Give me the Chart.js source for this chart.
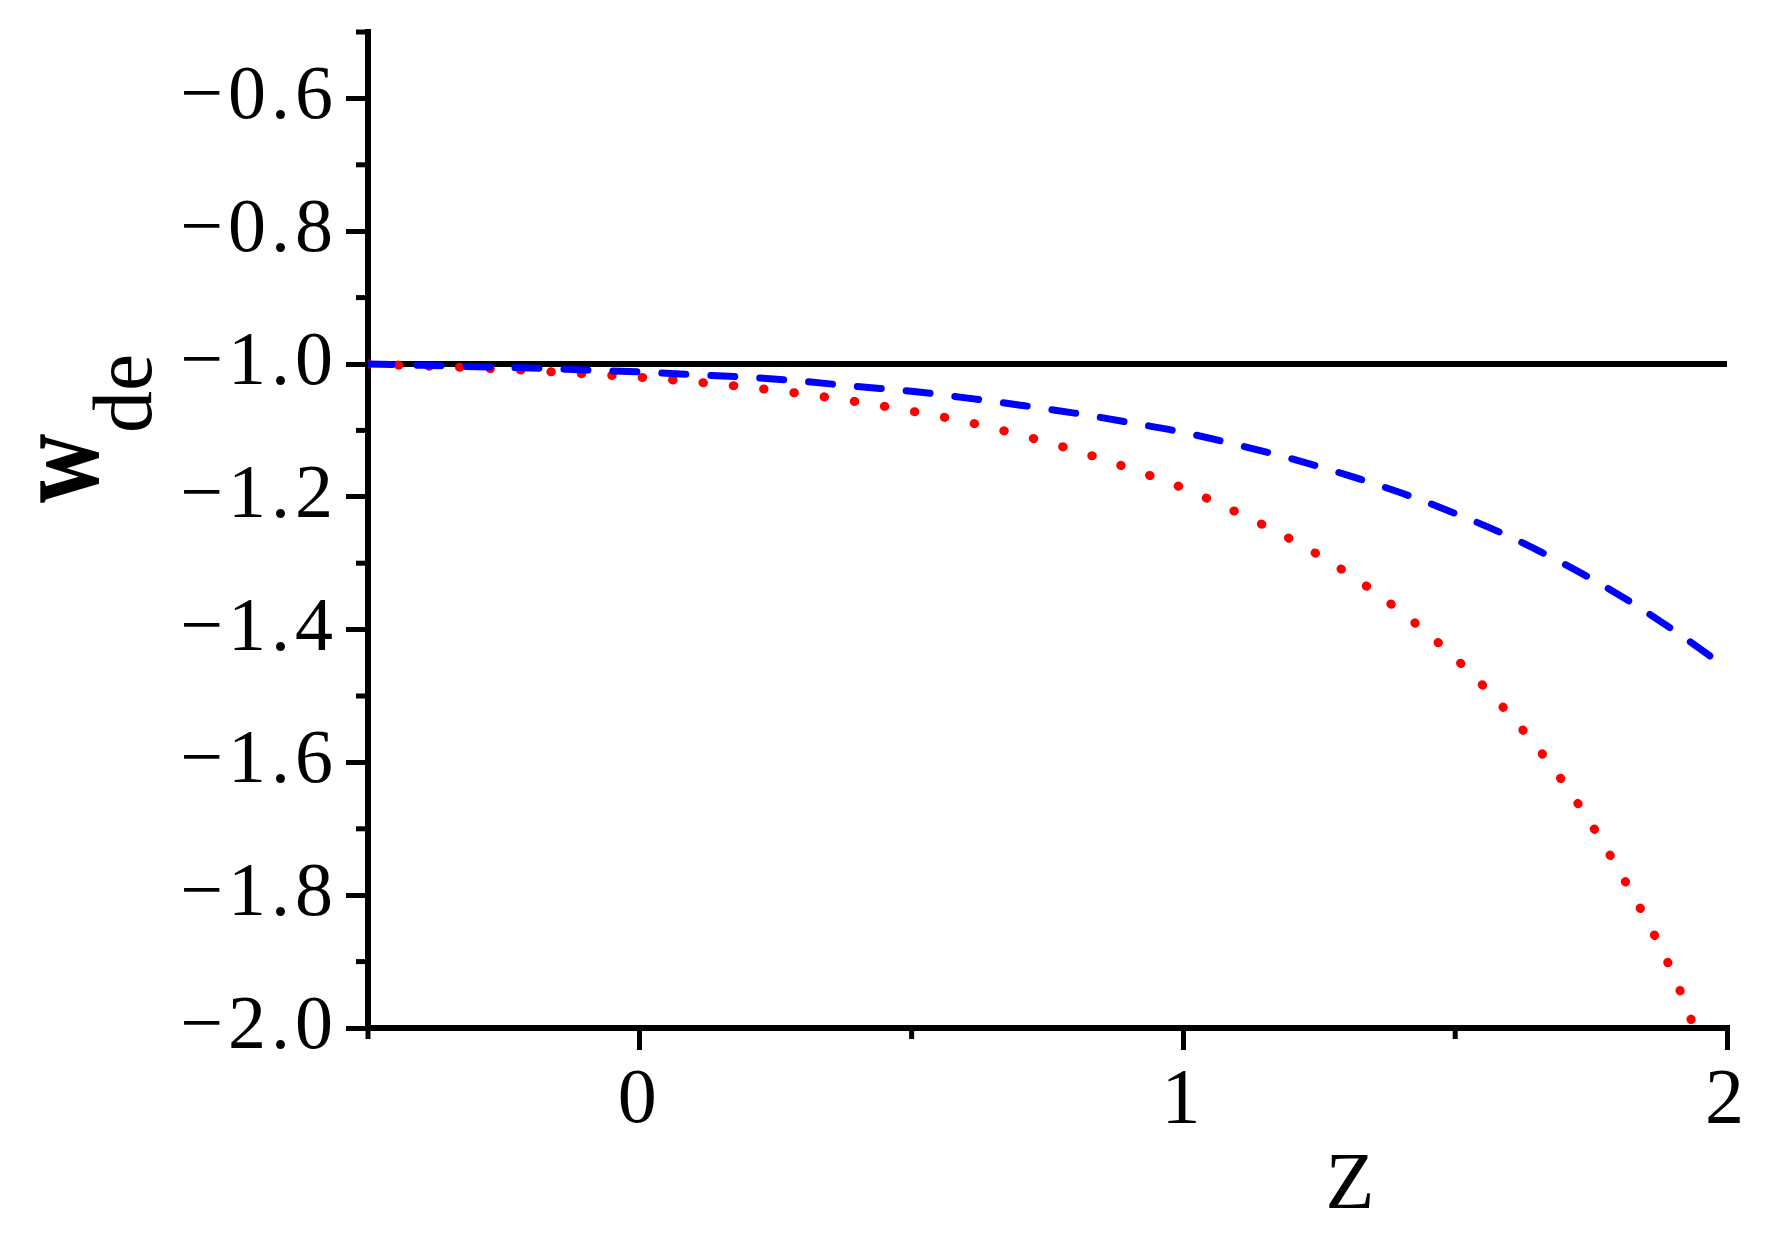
<!DOCTYPE html>
<html>
<head>
<meta charset="utf-8">
<script src="https://cdn.jsdelivr.net/npm/chart.js@4.4.1/dist/chart.umd.min.js"></script>
<style>
  html, body { margin: 0; padding: 0; background: #fff; }
  #wrap { width: 1770px; height: 1233px; }
</style>
</head>
<body>
<div id="wrap"><canvas id="c"></canvas></div>
<script>
// z grid of the two model curves
const zValues = [-0.5, -0.4, -0.3, -0.2, -0.1, 0.0, 0.1, 0.2, 0.3, 0.4, 0.5, 0.6, 0.7,
  0.8, 0.9, 1.0, 1.1, 1.2, 1.3, 1.4, 1.5, 1.6, 1.7, 1.8, 1.9, 2.0];
const wBlue = [-1.000, -1.002, -1.004, -1.006, -1.009, -1.012, -1.016, -1.020, -1.026,
  -1.034, -1.041, -1.051, -1.062, -1.074, -1.088, -1.103, -1.122, -1.143, -1.167,
  -1.194, -1.225, -1.260, -1.301, -1.347, -1.400, -1.458];
const zRed = [-0.5, -0.4, -0.3, -0.2, -0.1, 0.0, 0.1, 0.2, 0.3, 0.4, 0.5, 0.6, 0.7,
  0.8, 0.9, 1.0, 1.1, 1.2, 1.3, 1.4, 1.5, 1.6, 1.7, 1.8, 1.9, 1.94];
const wRed = [-1.000, -1.003, -1.006, -1.010, -1.015, -1.020, -1.027, -1.035, -1.045,
  -1.057, -1.071, -1.087, -1.107, -1.130, -1.157, -1.187, -1.224, -1.265, -1.314,
  -1.373, -1.443, -1.528, -1.631, -1.761, -1.917, -2.000];
const zLambda = [-0.5, 2.0];
const wLambda = [-1.0, -1.0];

const xMajor = [0, 1, 2];
const xMinor = [-0.5, 0.5, 1.5];
const yMajor = [-2.0, -1.8, -1.6, -1.4, -1.2, -1.0, -0.8, -0.6];
const yMinor = [-1.9, -1.7, -1.5, -1.3, -1.1, -0.9, -0.7, -0.5];

const pts = (xs, ys) => xs.map((x, i) => ({ x: x, y: ys[i] }));
const fmt = v => (v < 0 ? '\u2212' : '') + Math.abs(v).toFixed(1);

const extras = {
  id: 'extras',
  beforeDraw(chart) {
    chart.ctx.letterSpacing = '5px';
  },
  afterDraw(chart) {
    const ctx = chart.ctx;
    const xs = chart.scales.x, ys = chart.scales.y;
    const a = chart.chartArea;
    ctx.save();
    ctx.letterSpacing = '0px';
    ctx.strokeStyle = '#000';
    ctx.lineWidth = 5;
    yMinor.forEach(v => {
      const p = ys.getPixelForValue(v);
      ctx.beginPath(); ctx.moveTo(a.left - 12, p); ctx.lineTo(a.left, p); ctx.stroke();
    });
    xMinor.forEach(v => {
      const p = xs.getPixelForValue(v);
      ctx.beginPath(); ctx.moveTo(p, a.bottom); ctx.lineTo(p, a.bottom + 11); ctx.stroke();
    });
    ctx.fillStyle = '#000';
    // x title
    ctx.font = '80px "Liberation Serif"';
    ctx.textAlign = 'center';
    ctx.textBaseline = 'alphabetic';
    ctx.fillText('Z', a.left + 0.7226 * (a.right - a.left), 1208);
    // y title, rotated
    ctx.translate(98, 503);
    ctx.rotate(-Math.PI / 2);
    ctx.textAlign = 'left';
    ctx.save();
    ctx.scale(1, 1.3);
    ctx.font = 'bold 96px "Liberation Serif"';
    ctx.fillText('w', 0, 0);
    ctx.restore();
    ctx.font = '84px "Liberation Serif"';
    ctx.fillText('de', 70, 53);
    ctx.restore();
  }
};

new Chart(document.getElementById('c'), {
  type: 'scatter',
  data: {
    datasets: [
      {
        label: 'blue',
        data: pts(zValues, wBlue),
        showLine: true,
        borderColor: '#0000ff',
        borderWidth: 7,
        borderDash: [24, 25],
        borderCapStyle: 'round',
        pointRadius: 0,
        cubicInterpolationMode: 'monotone'
      },
      {
        label: 'red',
        data: pts(zRed, wRed),
        showLine: true,
        borderColor: '#ff0000',
        borderWidth: 9,
        borderDash: [0.5, 30],
        borderCapStyle: 'round',
        pointRadius: 0,
        cubicInterpolationMode: 'monotone'
      },
      {
        label: 'lambda',
        data: pts(zLambda, wLambda),
        showLine: true,
        borderColor: '#000',
        borderWidth: 6,
        pointRadius: 0
      }
    ]
  },
  options: {
    responsive: true,
    maintainAspectRatio: false,
    animation: false,
    events: [],
    layout: { padding: { left: 0, top: 32, right: 43, bottom: 0 } },
    plugins: { legend: { display: false }, tooltip: { enabled: false } },
    scales: {
      x: {
        type: 'linear',
        min: -0.5,
        max: 2,
        afterBuildTicks: s => { s.ticks = xMajor.map(v => ({ value: v })); },
        afterFit: s => { s.height = 205; s.paddingLeft = 0; s.paddingRight = 0; },
        grid: { display: true, drawOnChartArea: false, drawTicks: true, tickLength: 22, lineWidth: 5, color: '#000' },
        border: { display: true, width: 6, color: '#000' },
        ticks: {
          color: '#000',
          padding: 5,
          font: { family: 'Liberation Serif', size: 78 },
          callback: v => String(v)
        }
      },
      y: {
        type: 'linear',
        min: -2,
        max: -0.5,
        afterBuildTicks: s => { s.ticks = yMajor.map(v => ({ value: v })); },
        afterFit: s => { s.width = 368; s.paddingTop = 0; s.paddingBottom = 0; },
        grid: { display: true, drawOnChartArea: false, drawTicks: true, tickLength: 22, lineWidth: 5, color: '#000' },
        border: { display: true, width: 6, color: '#000' },
        ticks: {
          color: '#000',
          padding: 8,
          font: { family: 'Liberation Serif', size: 76 },
          callback: v => fmt(v)
        }
      }
    }
  },
  plugins: [extras]
});
</script>
</body>
</html>
